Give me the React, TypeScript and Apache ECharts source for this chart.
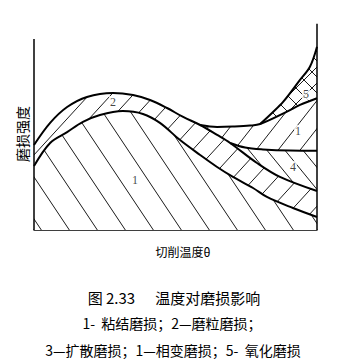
import React, { useEffect, useRef } from "react";
import * as echarts from "echarts";

// Boundary curves (x: cutting temperature, 0–100; y: wear intensity, 0–110)
const curve1X = [0, 5.7, 11.7, 17.3, 23.3, 31.4, 38.5, 44.5, 51.6, 58.7, 64.7, 70.3, 77.4, 82.3, 91.5, 100];
const curve1Y = [33.5, 45.6, 51.3, 56.6, 60.2, 62.3, 60.8, 56.1, 47.1, 39.3, 33.0, 27.8, 22.0, 17.3, 11.5, 6.8];

const curve2X = [0, 5.7, 11.7, 18.7, 27.9, 35, 41, 47, 52.7, 58.7, 64.7, 69.3, 78.8, 86.9, 100];
const curve2Y = [44.5, 56.1, 64.4, 69.7, 71.8, 70.7, 68.1, 63.9, 59.2, 55.0, 49.8, 45.6, 35.1, 27.8, 20.4];

const curve3X = [69.3, 74.6, 80.9, 90.5, 100];
const curve3Y = [45.6, 43.2, 42.2, 41.6, 41.5];

const curve4X = [58.7, 64.7, 70.3, 76.3, 79.9, 89.4, 94, 100];
const curve4Y = [55.0, 54.0, 54.2, 54.7, 55.5, 62.0, 65.5, 69.0];

const curve5X = [79.9, 84.1, 88.1, 94, 97.5, 100];
const curve5Y = [55.5, 61.3, 67.2, 78.6, 85.5, 96.0];

const regionLabels = ["2", "1", "5", "1", "4"];
const regionLabelX = [27.9, 35.7, 96.1, 93.3, 91.5];
const regionLabelY = [67.0, 26.2, 71.2, 51.9, 33.0];

const xName = "切削温度θ";
const yName = "磨损强度";
const captionTitle = "图 2.33      温度对磨损影响";
const captionLine1 = "1-  粘结磨损；2—磨粒磨损；";
const captionLine2 = "3—扩散磨损；1—相变磨损；5-  氧化磨损";

function zip(xs: number[], ys: number[]) {
  return xs.map((x, i) => [x, ys[i]]);
}

function hatch(w: number, h: number, dirs: number[], lw: number): HTMLCanvasElement {
  const c = document.createElement("canvas");
  c.width = w;
  c.height = h;
  const ctx = c.getContext("2d")!;
  ctx.fillStyle = "#ffffff";
  ctx.fillRect(0, 0, w, h);
  ctx.strokeStyle = "#1a1a1a";
  ctx.lineWidth = lw;
  for (const d of dirs) {
    for (let k = -1; k <= 1; k++) {
      ctx.beginPath();
      if (d < 0) {
        ctx.moveTo(k * w, 0);
        ctx.lineTo(k * w + w, h);
      } else {
        ctx.moveTo(k * w, h);
        ctx.lineTo(k * w + w, 0);
      }
      ctx.stroke();
    }
  }
  return c;
}

export default function App() {
  const ref = useRef<HTMLDivElement>(null);
  useEffect(() => {
    document.body.style.margin = "0";
    if (!ref.current) return;
    const chart = echarts.init(ref.current, undefined, { renderer: "svg" });

    const pat1 = { image: hatch(28, 42, [-1], 1), repeat: "repeat" };
    const pat2 = { image: hatch(22, 24, [1], 1), repeat: "repeat" };
    const pat3 = { image: hatch(18, 22, [-1], 1), repeat: "repeat" };
    const pat4 = { image: hatch(22, 28, [1], 1), repeat: "repeat" };
    const pat5 = { image: hatch(16, 16, [1, -1], 1), repeat: "repeat" };

    const curves = [
      { d: zip(curve5X, curve5Y), p: pat5 },
      { d: zip(curve4X, curve4Y), p: pat4 },
      { d: zip(curve3X, curve3Y), p: pat3 },
      { d: zip(curve2X, curve2Y), p: pat2 },
      { d: zip(curve1X, curve1Y), p: pat1 },
    ];

    const smooth = 0.35;
    const series: any[] = [];
    curves.forEach((c) => {
      series.push({
        type: "line",
        data: c.d,
        smooth,
        showSymbol: false,
        symbol: "none",
        lineStyle: { width: 0, opacity: 0 },
        areaStyle: { color: c.p, opacity: 1 },
        z: 2,
        silent: true,
      });
    });
    curves.forEach((c) => {
      series.push({
        type: "line",
        data: c.d,
        smooth,
        showSymbol: false,
        symbol: "none",
        lineStyle: { width: 2, color: "#000" },
        z: 5,
        silent: true,
      });
    });
    // frame lines
    series.push({
      type: "line",
      data: [[0, 0], [0, 100]],
      symbol: "none",
      lineStyle: { width: 1.5, color: "#000" },
      clip: false,
      z: 6,
    });
    series.push({
      type: "line",
      data: [[100, 0], [100, 108]],
      symbol: "none",
      lineStyle: { width: 1.5, color: "#000" },
      clip: false,
      z: 6,
    });
    series.push({
      type: "scatter",
      data: regionLabels.map((t, i) => [regionLabelX[i], regionLabelY[i], t]),
      symbolSize: 1,
      itemStyle: { color: "rgba(0,0,0,0)" },
      label: {
        show: true,
        position: "inside",
        formatter: (p: any) => p.data[2],
        fontFamily: "Liberation Serif",
        fontSize: 12,
        color: "#111",
        backgroundColor: "#fff",
        padding: [0, 1],
      },
      z: 8,
      silent: true,
    });

    const txt = (text: string, x: number, y: number, size: number, rotation = 0) => ({
      type: "text",
      x,
      y,
      rotation,
      style: {
        text,
        font: `${size}px "Noto Sans CJK SC"`,
        fill: "#000",
        align: "center",
        verticalAlign: "middle",
        whiteSpace: "pre",
      },
    });

    chart.setOption({
      animation: false,
      backgroundColor: "#fff",
      grid: { left: 34, right: 35, top: 20, bottom: 134 },
      xAxis: {
        type: "value",
        min: 0,
        max: 100,
        axisLine: { show: true, onZero: false, lineStyle: { color: "#000", width: 1.5 } },
        axisTick: { show: false },
        axisLabel: { show: false },
        splitLine: { show: false },
      },
      yAxis: {
        type: "value",
        min: 0,
        max: 110,
        axisLine: { show: false },
        axisTick: { show: false },
        axisLabel: { show: false },
        splitLine: { show: false },
      },
      series,
      graphic: [
        txt(yName, 21.5, 134, 14, Math.PI / 2),
        txt(xName, 183, 251, 12),
        txt(captionTitle, 174, 297, 15),
        txt(captionLine1, 172, 323, 14),
        txt(captionLine2, 173, 350, 14),
      ],
    });
    return () => chart.dispose();
  }, []);
  return <div ref={ref} style={{ width: 352, height: 364 }} />;
}
